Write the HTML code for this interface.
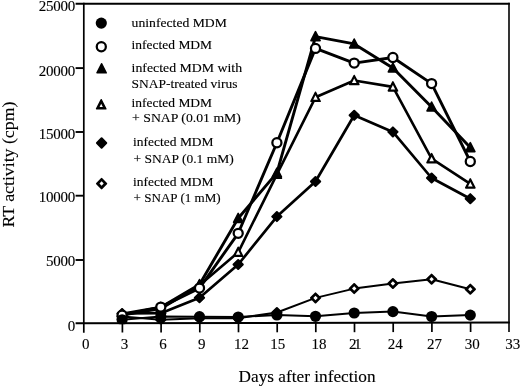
<!DOCTYPE html>
<html><head><meta charset="utf-8"><title>chart</title>
<style>
html,body{margin:0;padding:0;background:#fff;}
body{width:520px;height:387px;overflow:hidden;}
svg{display:block;will-change:transform;filter:grayscale(1);}
text{font-family:"Liberation Serif",serif;fill:#000;stroke:#000;stroke-width:0.12px;}
</style></head><body>
<svg width="520" height="387" viewBox="0 0 520 387">
<rect width="520" height="387" fill="#fff"/>

<g stroke="#000" fill="none" stroke-linecap="butt">
<path d="M75.6,3.75 H509.8" stroke-width="2"/>
<path d="M509.0,2.75 V331.9" stroke-width="1.6"/>
<path d="M83.8,2.75 V332.7" stroke-width="1.7"/>
<path d="M75.6,323.3 L509.8,322.4" stroke-width="2"/>
<path d="M75.6,260.0 H83.8" stroke-width="1.9"/>
<path d="M75.6,195.7 H83.8" stroke-width="1.9"/>
<path d="M75.6,132.0 H83.8" stroke-width="1.9"/>
<path d="M75.6,68.1 H83.8" stroke-width="1.9"/>
<path d="M122.4,323.2 V332.5" stroke-width="1.7"/>
<path d="M161.1,323.1 V332.5" stroke-width="1.7"/>
<path d="M199.8,323.1 V332.4" stroke-width="1.7"/>
<path d="M238.5,323.0 V332.3" stroke-width="1.7"/>
<path d="M277.2,322.9 V332.3" stroke-width="1.7"/>
<path d="M315.8,322.8 V332.2" stroke-width="1.7"/>
<path d="M354.5,322.7 V332.2" stroke-width="1.7"/>
<path d="M393.2,322.6 V332.1" stroke-width="1.7"/>
<path d="M431.9,322.6 V332.0" stroke-width="1.7"/>
<path d="M470.6,322.5 V332.0" stroke-width="1.7"/>
</g>
<g font-size="15px" text-anchor="end" letter-spacing="-0.25">
<text x="75.0" y="330.5">0</text>
<text x="75.0" y="266.3">5000</text>
<text x="75.0" y="201.7">10000</text>
<text x="75.0" y="138.6">15000</text>
<text x="75.0" y="75.6">20000</text>
<text x="75.0" y="10.7">25000</text>
</g>
<g font-size="15px" text-anchor="middle">
<text x="85.7" y="349.3">0</text>
<text x="124.4" y="349.3">3</text>
<text x="163.1" y="349.2">6</text>
<text x="201.8" y="349.2">9</text>
<text x="241.5" y="349.1">12</text>
<text x="277.8" y="349.1">15</text>
<text x="319.0" y="349.0">18</text>
<text x="355.3" y="349.0">2<tspan dx="-2.6">1</tspan></text>
<text x="395.2" y="348.9">24</text>
<text x="434.6" y="348.9">27</text>
<text x="472.2" y="348.8">30</text>
<text x="512.8" y="348.8">33</text>
</g>
<text x="238.6" y="382.3" font-size="17px" textLength="137" lengthAdjust="spacingAndGlyphs">Days after infection</text>
<text transform="translate(14.2,227.6) rotate(-90)" font-size="17px" textLength="126" lengthAdjust="spacingAndGlyphs">RT activity (cpm)</text>
<clipPath id="pc"><rect x="80" y="0" width="432" height="324.3"/></clipPath><g clip-path="url(#pc)">
<polyline points="122.1,316.5 160.8,319.7 199.5,318.2 238.2,318.2 276.9,312.5 315.5,297.9 354.2,288.6 392.9,283.5 431.6,279.2 470.3,289.2" fill="none" stroke="#000" stroke-width="2.0" stroke-linejoin="round"/>
<path d="M122.1,311.95 L126.74,316.5 L122.1,321.05 L117.44,316.5Z" fill="#000" stroke="#000" stroke-width="2.0" stroke-linejoin="round"/><path d="M122.1,314.23 L124.29,316.5 L122.1,318.77 L119.89,316.5Z" fill="#fff"/>
<path d="M160.8,315.15 L165.43,319.7 L160.8,324.25 L156.13,319.7Z" fill="#000" stroke="#000" stroke-width="2.0" stroke-linejoin="round"/><path d="M160.8,317.43 L162.98,319.7 L160.8,321.97 L158.58,319.7Z" fill="#fff"/>
<path d="M199.5,313.65 L204.12,318.2 L199.5,322.75 L194.82,318.2Z" fill="#000" stroke="#000" stroke-width="2.0" stroke-linejoin="round"/><path d="M199.5,315.93 L201.67,318.2 L199.5,320.47 L197.27,318.2Z" fill="#fff"/>
<path d="M238.2,313.65 L242.81,318.2 L238.2,322.75 L233.51,318.2Z" fill="#000" stroke="#000" stroke-width="2.0" stroke-linejoin="round"/><path d="M238.2,315.93 L240.36,318.2 L238.2,320.47 L235.96,318.2Z" fill="#fff"/>
<path d="M276.9,307.95 L281.50,312.5 L276.9,317.05 L272.20,312.5Z" fill="#000" stroke="#000" stroke-width="2.0" stroke-linejoin="round"/><path d="M276.9,310.23 L279.05,312.5 L276.9,314.77 L274.65,312.5Z" fill="#fff"/>
<path d="M315.5,293.35 L320.20,297.9 L315.5,302.45 L310.90,297.9Z" fill="#000" stroke="#000" stroke-width="2.0" stroke-linejoin="round"/><path d="M315.5,295.63 L317.75,297.9 L315.5,300.17 L313.35,297.9Z" fill="#fff"/>
<path d="M354.2,284.05 L358.89,288.6 L354.2,293.15 L349.59,288.6Z" fill="#000" stroke="#000" stroke-width="2.0" stroke-linejoin="round"/><path d="M354.2,286.33 L356.44,288.6 L354.2,290.87 L352.04,288.6Z" fill="#fff"/>
<path d="M392.9,278.95 L397.58,283.5 L392.9,288.05 L388.28,283.5Z" fill="#000" stroke="#000" stroke-width="2.0" stroke-linejoin="round"/><path d="M392.9,281.23 L395.13,283.5 L392.9,285.77 L390.73,283.5Z" fill="#fff"/>
<path d="M431.6,274.65 L436.27,279.2 L431.6,283.75 L426.97,279.2Z" fill="#000" stroke="#000" stroke-width="2.0" stroke-linejoin="round"/><path d="M431.6,276.93 L433.82,279.2 L431.6,281.47 L429.42,279.2Z" fill="#fff"/>
<path d="M470.3,284.65 L474.96,289.2 L470.3,293.75 L465.66,289.2Z" fill="#000" stroke="#000" stroke-width="2.0" stroke-linejoin="round"/><path d="M470.3,286.93 L472.51,289.2 L470.3,291.47 L468.11,289.2Z" fill="#fff"/>
<polyline points="122.1,313.5 160.8,313.2 199.5,297.7 238.2,264.5 276.9,216.6 315.5,181.5 354.2,115.3 392.9,131.9 431.6,178.0 470.3,198.7" fill="none" stroke="#000" stroke-width="2.7" stroke-linejoin="round"/>
<path d="M122.1,308.95 L126.74,313.5 L122.1,318.05 L117.44,313.5Z" fill="#000" stroke="#000" stroke-width="2.0" stroke-linejoin="round"/>
<path d="M160.8,308.65 L165.43,313.2 L160.8,317.75 L156.13,313.2Z" fill="#000" stroke="#000" stroke-width="2.0" stroke-linejoin="round"/>
<path d="M199.5,293.15 L204.12,297.7 L199.5,302.25 L194.82,297.7Z" fill="#000" stroke="#000" stroke-width="2.0" stroke-linejoin="round"/>
<path d="M238.2,259.95 L242.81,264.5 L238.2,269.05 L233.51,264.5Z" fill="#000" stroke="#000" stroke-width="2.0" stroke-linejoin="round"/>
<path d="M276.9,212.05 L281.50,216.6 L276.9,221.15 L272.20,216.6Z" fill="#000" stroke="#000" stroke-width="2.0" stroke-linejoin="round"/>
<path d="M315.5,176.95 L320.20,181.5 L315.5,186.05 L310.90,181.5Z" fill="#000" stroke="#000" stroke-width="2.0" stroke-linejoin="round"/>
<path d="M354.2,110.75 L358.89,115.3 L354.2,119.85 L349.59,115.3Z" fill="#000" stroke="#000" stroke-width="2.0" stroke-linejoin="round"/>
<path d="M392.9,127.35 L397.58,131.9 L392.9,136.45 L388.28,131.9Z" fill="#000" stroke="#000" stroke-width="2.0" stroke-linejoin="round"/>
<path d="M431.6,173.45 L436.27,178.0 L431.6,182.55 L426.97,178.0Z" fill="#000" stroke="#000" stroke-width="2.0" stroke-linejoin="round"/>
<path d="M470.3,194.15 L474.96,198.7 L470.3,203.25 L465.66,198.7Z" fill="#000" stroke="#000" stroke-width="2.0" stroke-linejoin="round"/>
<polyline points="122.1,315.3 160.8,308.8 199.5,285.3 238.2,252.3 276.9,174.3 315.5,97.3 354.2,80.5 392.9,86.9 431.6,158.7 470.3,183.9" fill="none" stroke="#000" stroke-width="2.6" stroke-linejoin="round"/>
<path d="M122.1,310.30 L126.68,319.25 L117.50,319.25Z" fill="#000" stroke="#000" stroke-width="1.6" stroke-linejoin="round"/><path d="M122.1,313.37 L124.39,317.85 L119.79,317.85Z" fill="#fff"/>
<path d="M160.8,303.80 L165.37,312.75 L156.19,312.75Z" fill="#000" stroke="#000" stroke-width="1.6" stroke-linejoin="round"/><path d="M160.8,306.87 L163.08,311.35 L158.48,311.35Z" fill="#fff"/>
<path d="M199.5,280.30 L204.06,289.25 L194.88,289.25Z" fill="#000" stroke="#000" stroke-width="1.6" stroke-linejoin="round"/><path d="M199.5,283.37 L201.77,287.85 L197.17,287.85Z" fill="#fff"/>
<path d="M238.2,247.30 L242.75,256.25 L233.57,256.25Z" fill="#000" stroke="#000" stroke-width="1.6" stroke-linejoin="round"/><path d="M238.2,250.37 L240.46,254.85 L235.86,254.85Z" fill="#fff"/>
<path d="M276.9,169.30 L281.44,178.25 L272.26,178.25Z" fill="#000" stroke="#000" stroke-width="1.6" stroke-linejoin="round"/><path d="M276.9,172.37 L279.15,176.85 L274.56,176.85Z" fill="#fff"/>
<path d="M315.5,92.30 L320.14,101.25 L310.96,101.25Z" fill="#000" stroke="#000" stroke-width="1.6" stroke-linejoin="round"/><path d="M315.5,95.37 L317.84,99.85 L313.25,99.85Z" fill="#fff"/>
<path d="M354.2,75.50 L358.83,84.45 L349.65,84.45Z" fill="#000" stroke="#000" stroke-width="1.6" stroke-linejoin="round"/><path d="M354.2,78.57 L356.54,83.05 L351.94,83.05Z" fill="#fff"/>
<path d="M392.9,81.90 L397.52,90.85 L388.34,90.85Z" fill="#000" stroke="#000" stroke-width="1.6" stroke-linejoin="round"/><path d="M392.9,84.97 L395.23,89.45 L390.63,89.45Z" fill="#fff"/>
<path d="M431.6,153.70 L436.21,162.65 L427.03,162.65Z" fill="#000" stroke="#000" stroke-width="1.6" stroke-linejoin="round"/><path d="M431.6,156.77 L433.92,161.25 L429.32,161.25Z" fill="#fff"/>
<path d="M470.3,178.90 L474.90,187.85 L465.72,187.85Z" fill="#000" stroke="#000" stroke-width="1.6" stroke-linejoin="round"/><path d="M470.3,181.97 L472.61,186.45 L468.01,186.45Z" fill="#fff"/>
<polyline points="122.1,314.0 160.8,307.3 199.5,284.4 238.2,218.3 276.9,172.9 315.5,36.6 354.2,43.9 392.9,67.9 431.6,106.9 470.3,147.6" fill="none" stroke="#000" stroke-width="2.9" stroke-linejoin="round"/>
<path d="M122.1,309.10 L126.68,318.05 L117.50,318.05Z" fill="#000" stroke="#000" stroke-width="1.6" stroke-linejoin="round"/>
<path d="M160.8,302.40 L165.37,311.35 L156.19,311.35Z" fill="#000" stroke="#000" stroke-width="1.6" stroke-linejoin="round"/>
<path d="M199.5,279.50 L204.06,288.45 L194.88,288.45Z" fill="#000" stroke="#000" stroke-width="1.6" stroke-linejoin="round"/>
<path d="M238.2,213.40 L242.75,222.35 L233.57,222.35Z" fill="#000" stroke="#000" stroke-width="1.6" stroke-linejoin="round"/>
<path d="M276.9,168.00 L281.44,176.95 L272.26,176.95Z" fill="#000" stroke="#000" stroke-width="1.6" stroke-linejoin="round"/>
<path d="M315.5,31.70 L320.14,40.65 L310.96,40.65Z" fill="#000" stroke="#000" stroke-width="1.6" stroke-linejoin="round"/>
<path d="M354.2,39.00 L358.83,47.95 L349.65,47.95Z" fill="#000" stroke="#000" stroke-width="1.6" stroke-linejoin="round"/>
<path d="M392.9,63.00 L397.52,71.95 L388.34,71.95Z" fill="#000" stroke="#000" stroke-width="1.6" stroke-linejoin="round"/>
<path d="M431.6,102.00 L436.21,110.95 L427.03,110.95Z" fill="#000" stroke="#000" stroke-width="1.6" stroke-linejoin="round"/>
<path d="M470.3,142.70 L474.90,151.65 L465.72,151.65Z" fill="#000" stroke="#000" stroke-width="1.6" stroke-linejoin="round"/>
<polyline points="122.1,315.2 160.8,307.1 199.5,288.1 238.2,233.3 276.9,142.7 315.5,48.4 354.2,63.1 392.9,57.5 431.6,83.6 470.3,161.5" fill="none" stroke="#000" stroke-width="2.9" stroke-linejoin="round"/>
<circle cx="122.1" cy="315.2" r="4.55" fill="#fff" stroke="#000" stroke-width="2.25"/>
<circle cx="160.8" cy="307.1" r="4.55" fill="#fff" stroke="#000" stroke-width="2.25"/>
<circle cx="199.5" cy="288.1" r="4.55" fill="#fff" stroke="#000" stroke-width="2.25"/>
<circle cx="238.2" cy="233.3" r="4.55" fill="#fff" stroke="#000" stroke-width="2.25"/>
<circle cx="276.9" cy="142.7" r="4.55" fill="#fff" stroke="#000" stroke-width="2.25"/>
<circle cx="315.5" cy="48.4" r="4.55" fill="#fff" stroke="#000" stroke-width="2.25"/>
<circle cx="354.2" cy="63.1" r="4.55" fill="#fff" stroke="#000" stroke-width="2.25"/>
<circle cx="392.9" cy="57.5" r="4.55" fill="#fff" stroke="#000" stroke-width="2.25"/>
<circle cx="431.6" cy="83.6" r="4.55" fill="#fff" stroke="#000" stroke-width="2.25"/>
<circle cx="470.3" cy="161.5" r="4.55" fill="#fff" stroke="#000" stroke-width="2.25"/>
<polyline points="122.1,319.8 160.8,316.5 199.5,316.7 238.2,317.0 276.9,315.0 315.5,316.3 354.2,313.0 392.9,311.6 431.6,316.5 470.3,315.1" fill="none" stroke="#000" stroke-width="2.0" stroke-linejoin="round"/>
<circle cx="122.1" cy="319.8" r="5.6" fill="#000"/>
<circle cx="160.8" cy="316.5" r="5.6" fill="#000"/>
<circle cx="199.5" cy="316.7" r="5.6" fill="#000"/>
<circle cx="238.2" cy="317.0" r="5.6" fill="#000"/>
<circle cx="276.9" cy="315.0" r="5.6" fill="#000"/>
<circle cx="315.5" cy="316.3" r="5.6" fill="#000"/>
<circle cx="354.2" cy="313.0" r="5.6" fill="#000"/>
<circle cx="392.9" cy="311.6" r="5.6" fill="#000"/>
<circle cx="431.6" cy="316.5" r="5.6" fill="#000"/>
<circle cx="470.3" cy="315.1" r="5.6" fill="#000"/>
</g>
<circle cx="101.3" cy="23.1" r="5.6" fill="#000"/>
<circle cx="101.3" cy="46.7" r="4.55" fill="#fff" stroke="#000" stroke-width="2.25"/>
<path d="M101.6,63.80 L106.19,72.75 L97.01,72.75Z" fill="#000" stroke="#000" stroke-width="1.6" stroke-linejoin="round"/>
<path d="M101.2,99.80 L105.79,108.75 L96.61,108.75Z" fill="#000" stroke="#000" stroke-width="1.6" stroke-linejoin="round"/><path d="M101.2,103.75 L102.84,106.95 L99.56,106.95Z" fill="#fff"/>
<path d="M101.6,138.25 L106.25,143.0 L101.6,147.75 L96.95,143.0Z" fill="#000" stroke="#000" stroke-width="2.0" stroke-linejoin="round"/>
<path d="M101.6,178.85 L106.25,183.6 L101.6,188.35 L96.95,183.6Z" fill="#000" stroke="#000" stroke-width="2.0" stroke-linejoin="round"/><path d="M101.6,181.36 L103.70,183.6 L101.6,185.84 L99.50,183.6Z" fill="#fff"/>
<g font-size="13px">
<text x="131.6" y="26.6" textLength="95.3" lengthAdjust="spacingAndGlyphs">uninfected MDM</text>
<text x="131.6" y="48.9" textLength="80.5" lengthAdjust="spacingAndGlyphs">infected MDM</text>
<text x="131.6" y="71.6" textLength="110.5" lengthAdjust="spacingAndGlyphs">infected MDM with</text>
<text x="131.6" y="88" textLength="105.9" lengthAdjust="spacingAndGlyphs">SNAP-treated virus</text>
<text x="131.6" y="106.6" textLength="80.5" lengthAdjust="spacingAndGlyphs">infected MDM</text>
<text x="132.1" y="122" textLength="108.8" lengthAdjust="spacingAndGlyphs">+ SNAP (0.01 mM)</text>
<text x="133.1" y="146.4" textLength="80.5" lengthAdjust="spacingAndGlyphs">infected MDM</text>
<text x="133.6" y="162.5" textLength="100.1" lengthAdjust="spacingAndGlyphs">+ SNAP (0.1 mM)</text>
<text x="133.1" y="185.7" textLength="80.5" lengthAdjust="spacingAndGlyphs">infected MDM</text>
<text x="133.6" y="202.2" textLength="87.1" lengthAdjust="spacingAndGlyphs">+ SNAP (1 mM)</text>
</g>
</svg></body></html>
